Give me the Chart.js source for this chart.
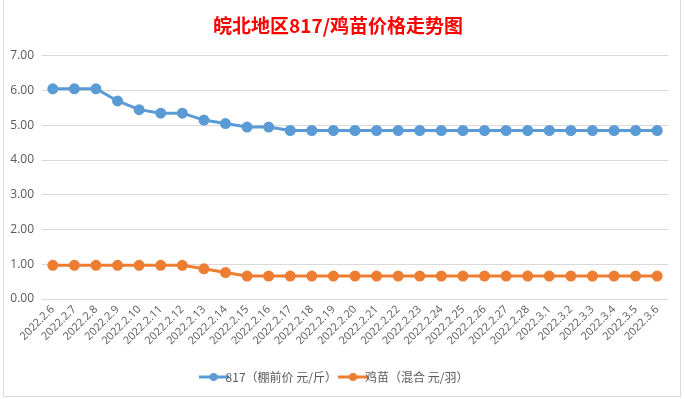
<!DOCTYPE html>
<html>
<head>
<meta charset="utf-8">
<script src="https://cdn.jsdelivr.net/npm/chart.js@4"></script>
<style>
  html, body { margin: 0; padding: 0; background: #fff; }
  #wrap { position: relative; width: 685px; height: 399px; }
  #frame { position: absolute; left: 3px; top: -1px; width: 676px; height: 397px;
           border-left: 1px solid #d9d9d9; border-right: 1px solid #d9d9d9; border-bottom: 1px solid #d9d9d9; }
  canvas { position: absolute; left: 0; top: 0; }
</style>
</head>
<body>
<div id="wrap">
  <div id="frame"></div>
  <canvas id="grafico" width="685" height="399"></canvas>
</div>
<script>
const fechas = [
  "2022.2.6", "2022.2.7", "2022.2.8", "2022.2.9", "2022.2.10", "2022.2.11", "2022.2.12",
  "2022.2.13", "2022.2.14", "2022.2.15", "2022.2.16", "2022.2.17", "2022.2.18", "2022.2.19",
  "2022.2.20", "2022.2.21", "2022.2.22", "2022.2.23", "2022.2.24", "2022.2.25", "2022.2.26",
  "2022.2.27", "2022.2.28", "2022.3.1", "2022.3.2", "2022.3.3", "2022.3.4", "2022.3.5", "2022.3.6"
];
const precio817 = [
  6.05, 6.05, 6.05, 5.70, 5.45, 5.35, 5.35, 5.15, 5.05, 4.95, 4.95, 4.85, 4.85, 4.85, 4.85,
  4.85, 4.85, 4.85, 4.85, 4.85, 4.85, 4.85, 4.85, 4.85, 4.85, 4.85, 4.85, 4.85, 4.85
];
const precioPollito = [
  0.97, 0.97, 0.97, 0.97, 0.97, 0.97, 0.97, 0.87, 0.76, 0.66, 0.66, 0.66, 0.66, 0.66, 0.66,
  0.66, 0.66, 0.66, 0.66, 0.66, 0.66, 0.66, 0.66, 0.66, 0.66, 0.66, 0.66, 0.66, 0.66
];
const serie817 = "817（棚前价 元/斤）";
const seriePollito = "鸡苗（混合 元/羽）";
const titulo = "皖北地区817/鸡苗价格走势图";

const azul = "#5b9bd5";
const naranja = "#ed7d31";

// marcador de leyenda: linea con punto
function marcador(color) {
  let c = document.createElement("canvas");
  c.width = 30;
  c.height = 10;
  let g = c.getContext("2d");
  g.strokeStyle = color;
  g.lineWidth = 3;
  g.beginPath();
  g.moveTo(0, 5);
  g.lineTo(30, 5);
  g.stroke();
  g.fillStyle = color;
  g.beginPath();
  g.arc(15, 5, 4, 0, Math.PI * 2);
  g.fill();
  return c;
}
const marcadores = [marcador(azul), marcador(naranja)];

let ctx = document.getElementById("grafico");
new Chart(ctx, {
  type: "line",
  data: {
    labels: fechas,
    datasets: [
      {
        label: serie817,
        data: precio817,
        borderColor: azul,
        backgroundColor: azul,
        borderWidth: 3,
        pointRadius: 4,
      },
      {
        label: seriePollito,
        data: precioPollito,
        borderColor: naranja,
        backgroundColor: naranja,
        borderWidth: 3,
        pointRadius: 4,
      },
    ],
  },
  options: {
    responsive: false,
    animation: false,
    layout: { padding: { left: 8, right: 17, top: 0, bottom: 6 } },
    plugins: {
      title: {
        display: true,
        text: titulo,
        color: "#ff0000",
        font: { family: "'Noto Sans CJK SC', 'Liberation Sans'", size: 19, weight: "bold" },
        padding: { top: 14, bottom: 19 },
      },
      legend: {
        position: "bottom",
        labels: {
          usePointStyle: true,
          color: "#595959",
          font: { family: "'Noto Sans CJK SC'", size: 12 },
          padding: 10,
          generateLabels: function (chart) {
            let items = Chart.defaults.plugins.legend.labels.generateLabels(chart);
            items.forEach((item, i) => {
              item.pointStyle = marcadores[i];
            });
            return items;
          },
        },
      },
      tooltip: { enabled: false },
    },
    scales: {
      x: {
        offset: true,
        grid: { display: false, drawTicks: false },
        border: { display: false },
        ticks: {
          autoSkip: false,
          minRotation: 45,
          maxRotation: 45,
          color: "#595959",
          font: { family: "'Open Sans'", size: 11 },
          padding: 4,
        },
        afterFit: function (scale) { scale.height = 62; },
      },
      y: {
        min: 0,
        max: 7,
        ticks: {
          stepSize: 1,
          color: "#595959",
          font: { family: "'Open Sans'", size: 12 },
          padding: 8,
          callback: function (v) { return v.toFixed(2); },
        },
        grid: { color: "#d9d9d9", drawTicks: false },
        border: { display: false },
        afterFit: function (scale) { scale.width = 34; },
      },
    },
  },
});
</script>
</body>
</html>
